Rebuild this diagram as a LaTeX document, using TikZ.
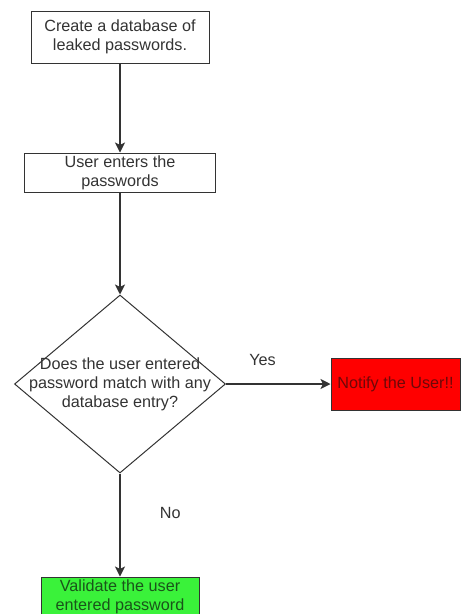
\documentclass[tikz,border=0pt]{standalone}
\usepackage{fontspec}
\setmainfont{Liberation Sans}
\usetikzlibrary{arrows.meta,positioning,shapes.geometric}
\definecolor{ink}{HTML}{333333}
\definecolor{alarm}{HTML}{FF0000}
\definecolor{alarmtxt}{HTML}{6E0808}
\definecolor{okay}{HTML}{3AF23A}
\definecolor{okaytxt}{HTML}{1A541A}

\begin{document}
\begin{tikzpicture}
[x=1pt,y=1pt,
box/.style={rectangle, draw=ink, line width=1pt, align=center, text=ink,
inner sep=0pt, font=\fontsize{16.2}{19}\selectfont},
decision/.style={diamond, draw=ink, line width=1pt, inner sep=0pt,
minimum width=211pt, minimum height=178pt},
lbl/.style={text=ink, font=\fontsize{16.2}{19}\selectfont},
flow/.style={-{Stealth[length=10pt,width=10pt,inset=2.5pt]}, draw=ink, line width=1.1pt}]
\clip (0,0) rectangle (462,-614);
\node[box, minimum width=178pt, minimum height=52pt] (create) at (120,-37)
  {Create a database of\\leaked passwords.};
\node[box, minimum width=191pt, minimum height=39pt] (enter) at (120,-172.5)
  {User enters the\\passwords};
\node[decision, label={[lbl, align=center]center:Does the user entered\\password match with any\\database entry?}]
  (match) at (120,-384) {};
\node[box, fill=alarm, text=alarmtxt, minimum width=129pt, minimum height=52pt]
  (notify) at (395.5,-384) {Notify the User!!};
\node[box, fill=okay, text=okaytxt, minimum width=158pt, minimum height=40pt]
  (validate) at (120,-597) {Validate the user\\entered password};

\draw[flow] (create) -- (enter);
\draw[flow] (enter) -- (match);
\draw[flow] (match.east) -- node[lbl, pos=0.35, above=14pt]{Yes} (notify.west);
\draw[flow] (match) -- node[lbl, pos=0.38, right=36pt]{No} (validate);
\end{tikzpicture}
\end{document}
